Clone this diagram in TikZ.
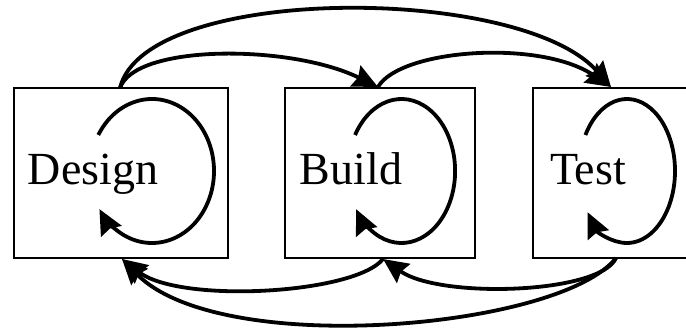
\documentclass[tikz,border=0pt]{standalone}
\usepackage{fontspec}
\setmainfont{Liberation Serif}
\usetikzlibrary{arrows.meta,calc}

\tikzset{
  stage/.style={draw=black, line width=2pt, inner sep=0pt, outer sep=0pt},
  stagelabel/.style={anchor=base, inner sep=0pt, font=\fontsize{46}{50}\selectfont},
  flow/.style={draw=black, line width=3.8pt,
    -{Stealth[length=25pt,width=23pt,inset=3pt]}},
}

\begin{document}
\begin{tikzpicture}[x=1pt,y=1pt]
  \clip (0,0) rectangle (686,329);

  % the three stages
  \node[stage, minimum width=214pt, minimum height=170pt] (design) at (121,156) {};
  \node[stage, minimum width=190pt, minimum height=170pt] (build)  at (380,156) {};
  \node[stage, minimum width=220pt, minimum height=170pt] (test)   at (643,156) {};

  \node[stagelabel] (designtxt) at (93,144)  {Design};
  \node[stagelabel] (buildtxt)  at (351,144) {Build};
  \node[stagelabel] (testtxt)   at (588,144) {Test};

  % attachment points on the top and bottom edges
  \coordinate (dT) at (120,241);
  \coordinate (bT) at (378,242);
  \coordinate (tT) at (611,242);
  \coordinate (dB) at (122,70);
  \coordinate (bB) at (383,70);
  \coordinate (tB) at (616,71);

  % forward hand-offs over the top
  \draw[flow] (dT) .. controls (145,345) and (520,345) .. (tT);
  \draw[flow] (dT) .. controls (135,285) and (290,285) .. (bT);
  \draw[flow] (bT) .. controls (400,280) and (540,290) .. (tT);

  % feedback underneath
  \draw[flow] (bB) .. controls (355,35) and (180,25) .. (dB);
  \draw[flow] (tB) .. controls (600,35) and (440,30) .. (bB);
  \draw[flow] (tB) .. controls (560,0) and (220,-30) .. (dB);

  % iteration inside each stage
  \coordinate (dL) at ($(152,158)+(150:62 and 72)$);
  \coordinate (bL) at ($(401.5,158)+(150:53.6 and 72)$);
  \coordinate (tL) at ($(627,158)+(150:48 and 72)$);
  \draw[flow] (dL) arc[start angle=150, end angle=-148, x radius=62, y radius=72];
  \draw[flow] (bL) arc[start angle=150, end angle=-148, x radius=53.6, y radius=72];
  \draw[flow] (tL) arc[start angle=150, end angle=-145, x radius=48, y radius=72];
\end{tikzpicture}
\end{document}
